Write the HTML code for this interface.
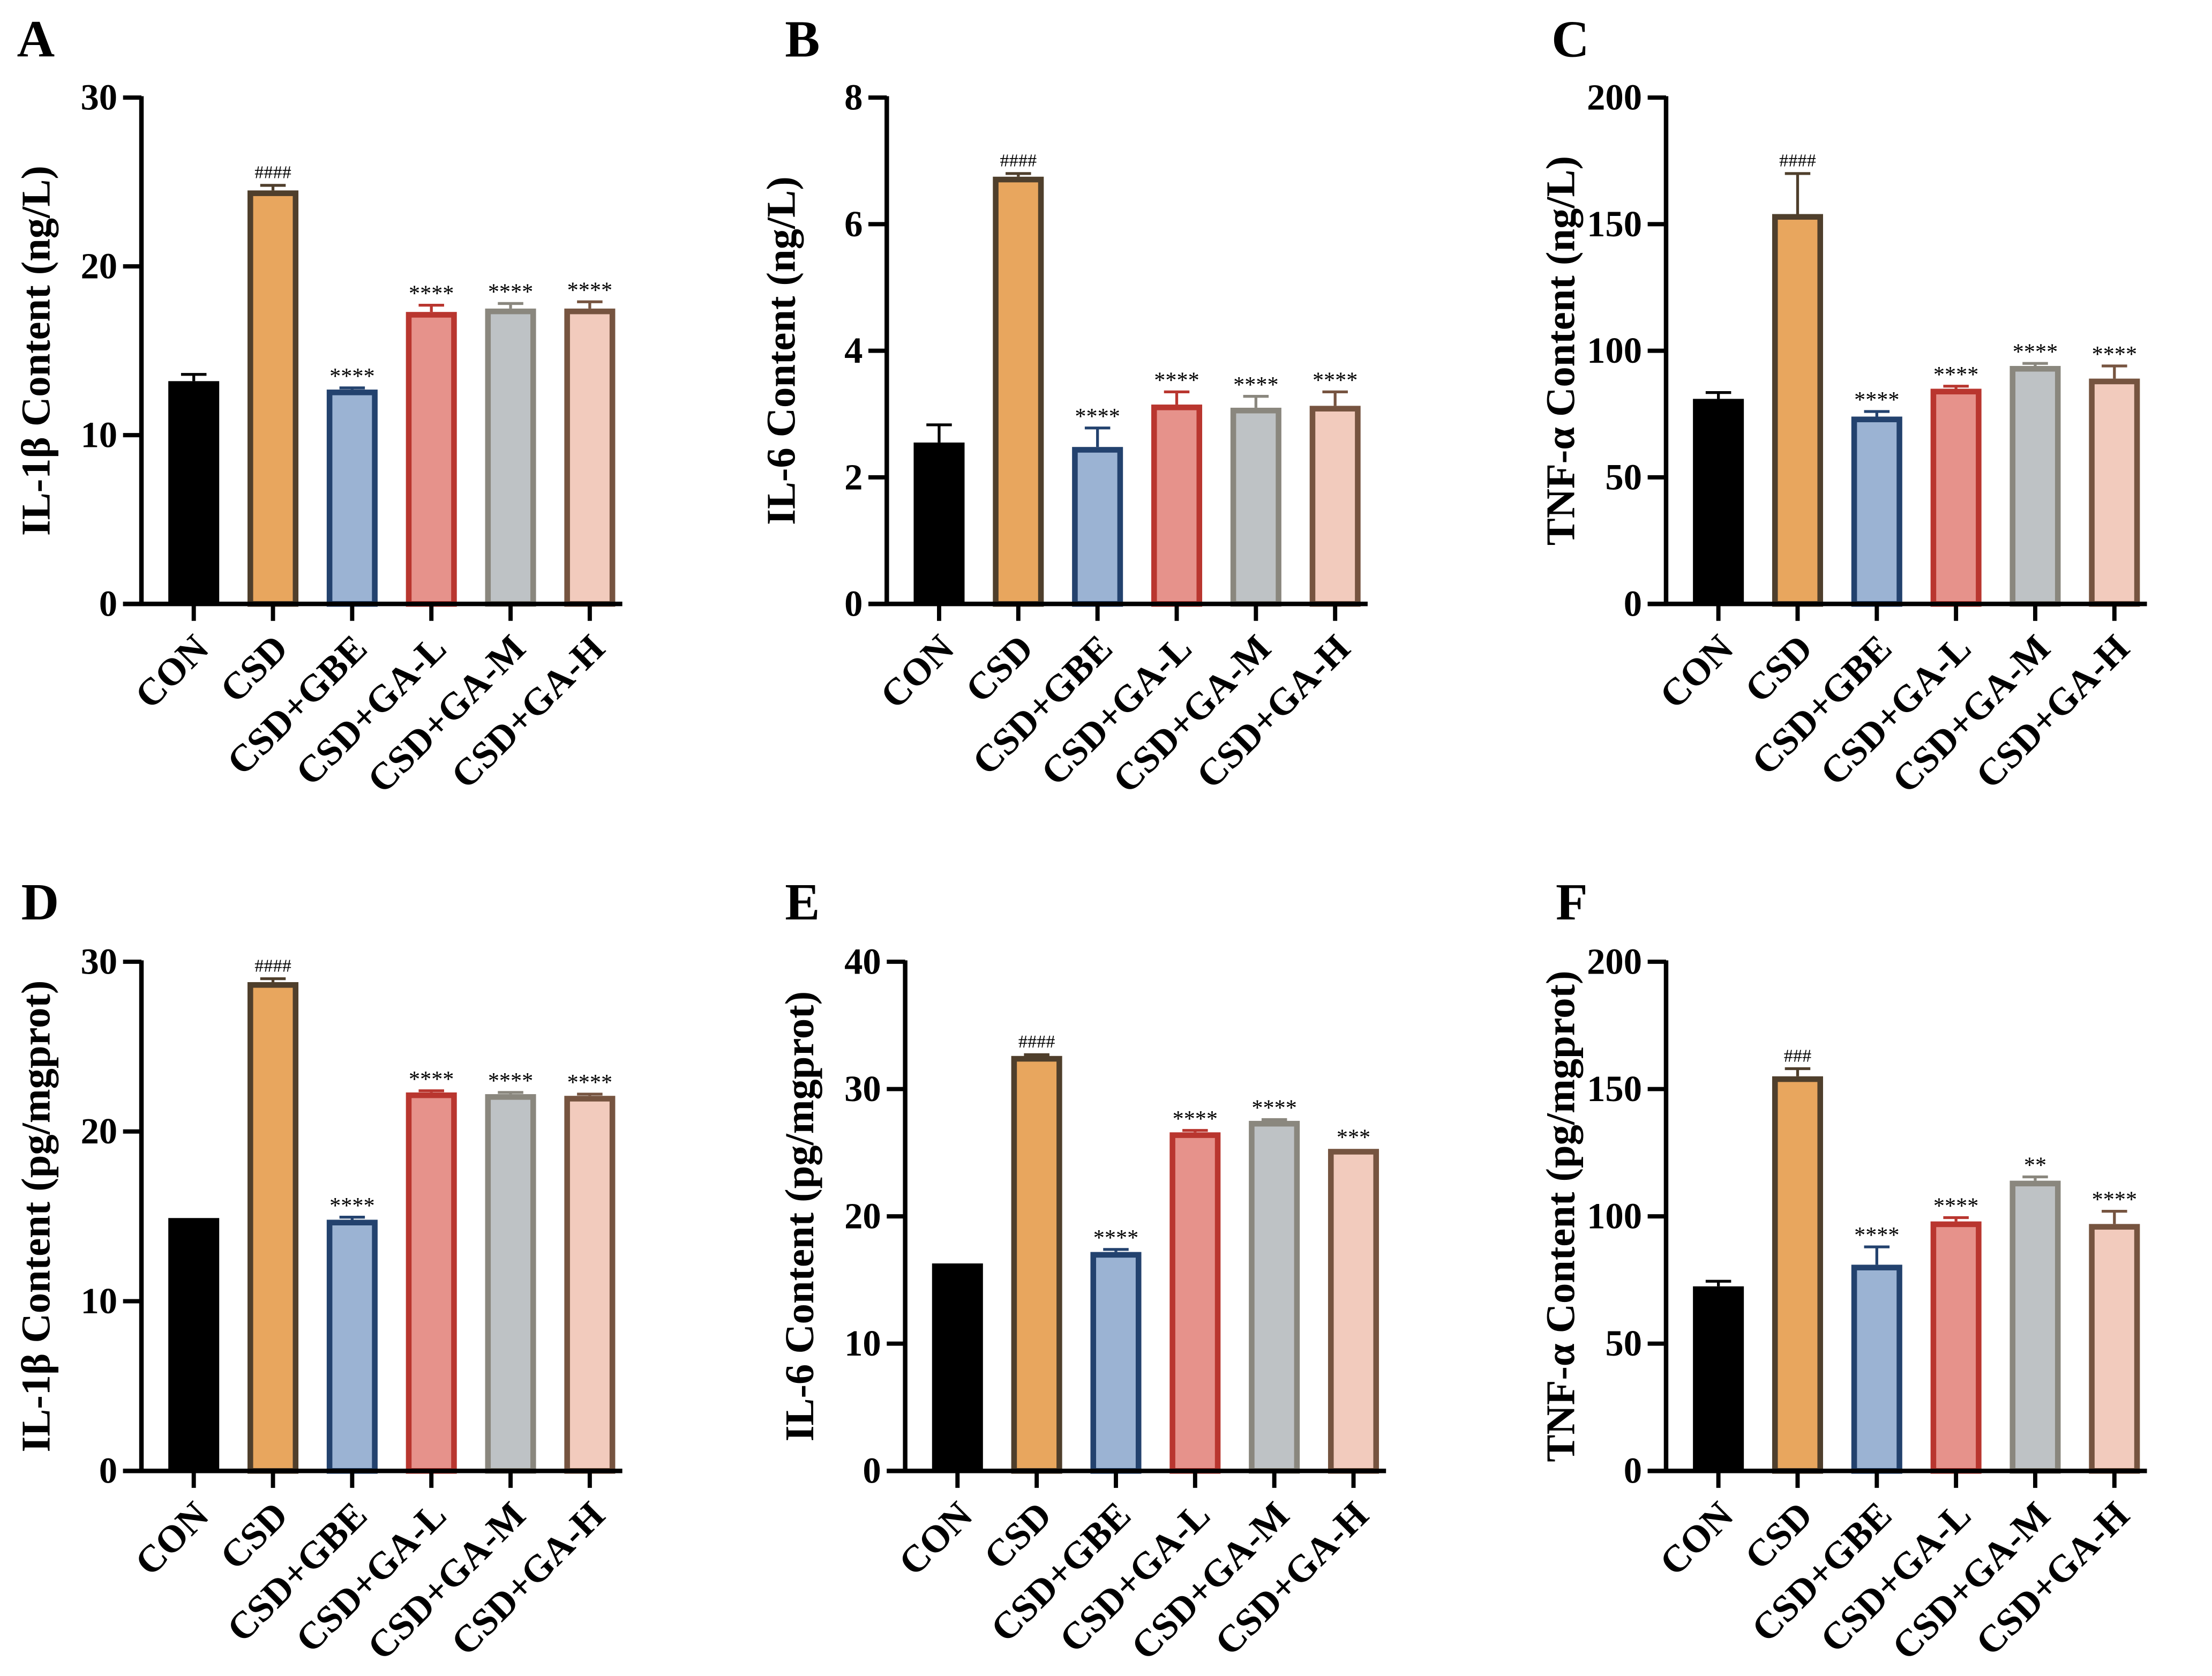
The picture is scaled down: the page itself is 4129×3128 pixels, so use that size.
<!DOCTYPE html>
<html><head><meta charset="utf-8"><style>
html,body{margin:0;padding:0;background:#fff}
svg{display:block}
text{font-family:"Liberation Serif",serif;font-weight:bold;fill:#000}
</style></head><body>
<svg id="fig" width="4129" height="3128" viewBox="0 0 1564 1185" preserveAspectRatio="none" xmlns="http://www.w3.org/2000/svg"></svg>
<script>
const categories = ["CON","CSD","CSD+GBE","CSD+GA-L","CSD+GA-M","CSD+GA-H"];
const valuesA = [13.2,24.5,12.7,17.3,17.5,17.5];
const errorsA = [0.4,0.3,0.1,0.4,0.3,0.4];
const marksA = ["","####","****","****","****","****"];
const valuesB = [2.55,6.75,2.48,3.15,3.1,3.13];
const errorsB = [0.28,0.05,0.3,0.2,0.18,0.22];
const marksB = ["","####","****","****","****","****"];
const valuesC = [81,154,74,85,94,89];
const errorsC = [2.5,16,2,1,1,5];
const marksC = ["","####","****","****","****","****"];
const valuesD = [14.9,28.8,14.8,22.3,22.2,22.1];
const errorsD = [0,0.2,0.15,0.1,0.1,0.1];
const marksD = ["","####","****","****","****","****"];
const valuesE = [16.3,32.6,17.2,26.6,27.5,25.3];
const errorsE = [0,0.1,0.2,0.15,0.1,0];
const marksE = ["","####","****","****","****","***"];
const valuesF = [72.5,155,81,98,114,97];
const errorsF = [2,3,7,1.5,1.5,5];
const marksF = ["","###","****","****","**","****"];
const ticksA = [0,10,20,30], ticksB=[0,2,4,6,8], ticksC=[0,50,100,150,200];
const ticksD = [0,10,20,30], ticksE=[0,10,20,30,40], ticksF=[0,50,100,150,200];

const fills = ["#000000","#e8a65e","#9bb3d3","#e6928b","#bec2c5","#f2cbbd"];
const strokes = ["#000000","#4f3f2c","#23426e","#b9362f","#8a877e","#765440"];
const NS="http://www.w3.org/2000/svg";
const svg=document.getElementById('fig');
function mk(tag,attrs,parent){const e=document.createElementNS(NS,tag);for(const k in attrs)e.setAttribute(k,attrs[k]);(parent||svg).appendChild(e);return e;}

function panel(letter,lx,ly,ax,top,bot,ticks,vals,errs,marks,title,key){
  const g=mk('g',{});
  
  
  const L=mk('text',{x:lx,y:ly,'font-size':37},g);L.textContent=letter;
  
  
  const ymax=ticks[ticks.length-1];
  const y=v=>bot-(v/ymax)*(bot-top);
  const x=i=>ax+37+i*56;
  const ya=mk('line',{x1:ax,y1:top-1,x2:ax,y2:bot+1.5,stroke:'#000','stroke-width':3.2},g);
  
  
  ticks.forEach(t=>{
    mk('line',{x1:ax-13,y1:y(t),x2:ax,y2:y(t),stroke:'#000','stroke-width':3},g);
    const tl=mk('text',{x:ax-17,y:y(t)+8.5,'font-size':26,'text-anchor':'end'},g);tl.textContent=t;
    
    
  });
  const tt=mk('text',{x:0,y:0,'font-size':29,'text-anchor':'middle',transform:`translate(${ax-65},${(top+bot)/2}) rotate(-90)`},g);
  tt.textContent=title;
  
  
  vals.forEach((v,i)=>{
    const cx=x(i), w=36;
    const top_=y(v);
    if(errs[i]>0){
      const ey=y(v+errs[i]);
      mk('line',{x1:cx,y1:top_,x2:cx,y2:ey,stroke:strokes[i],'stroke-width':2},g);
      mk('line',{x1:cx-9,y1:ey,x2:cx+9,y2:ey,stroke:strokes[i],'stroke-width':2},g);
    }
    const sw=i==0?0:4;
    const b=mk('rect',{x:cx-w/2+sw/2,y:top_+sw/2,width:w-sw,height:bot-top_-sw/2,fill:fills[i],stroke:strokes[i],'stroke-width':sw},g);
    
    
    if(marks[i]){
      const ey=y(v+errs[i]);
      const m=mk('text',{x:cx,y:ey-(marks[i][0]=='#'?5:3),'font-size':marks[i][0]=='#'?13:16,'text-anchor':'middle'},g);
      m.style.fontWeight='normal';
      m.textContent=marks[i];
      
      
    }
    mk('line',{x1:cx,y1:bot,x2:cx,y2:bot+12,stroke:'#000','stroke-width':3},g);
    const cl=mk('text',{x:0,y:0,'font-size':27,'text-anchor':'end',transform:`translate(${cx+12},${bot+33}) rotate(-45)`},g);
    cl.textContent=categories[i];
    
    
  });
  const xa=mk('line',{x1:ax-13,y1:bot,x2:ax+340,y2:bot,stroke:'#000','stroke-width':3.2},g);
  
  
}
panel('A',12,40,100,69,427,ticksA,valuesA,errorsA,marksA,'IL-1β Content (ng/L)','a');
panel('B',555,40,627,69,427,ticksB,valuesB,errorsB,marksB,'IL-6 Content (ng/L)','b');
panel('C',1097,40,1178,69,427,ticksC,valuesC,errorsC,marksC,'TNF-α Content (ng/L)','c');
panel('D',15,650,100,680,1040,ticksD,valuesD,errorsD,marksD,'IL-1β Content (pg/mgprot)','d');
panel('E',555,650,640,680,1040,ticksE,valuesE,errorsE,marksE,'IL-6 Content (pg/mgprot)','e');
panel('F',1100,650,1178,680,1040,ticksF,valuesF,errorsF,marksF,'TNF-α Content (pg/mgprot)','f');
</script>
</body></html>
